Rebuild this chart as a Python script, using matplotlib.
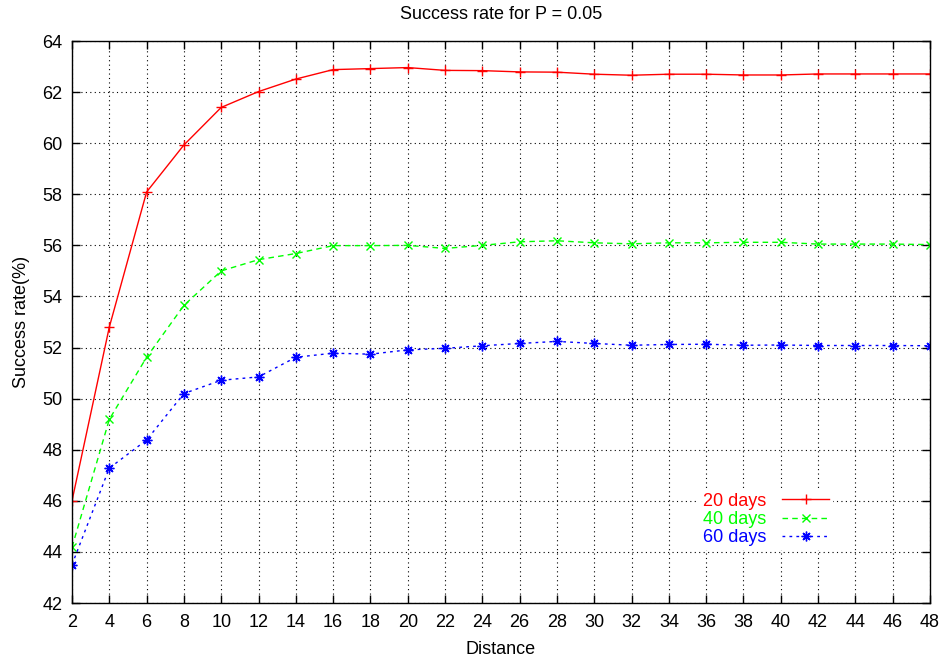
import matplotlib
matplotlib.use("Agg")
import matplotlib.pyplot as plt

distance = [2, 4, 6, 8, 10, 12, 14, 16, 18, 20, 22, 24, 26, 28, 30, 32, 34, 36, 38, 40, 42, 44, 46, 48]
days20 = [46.0, 52.8, 58.09, 59.93, 61.4, 62.02, 62.51, 62.88, 62.92, 62.96, 62.85, 62.84, 62.79, 62.78,
          62.70, 62.66, 62.70, 62.70, 62.67, 62.67, 62.71, 62.71, 62.71, 62.71]
days40 = [44.18, 49.19, 51.62, 53.65, 55.0, 55.44, 55.68, 55.99, 55.99, 56.0, 55.88, 56.0, 56.14, 56.18,
          56.10, 56.06, 56.10, 56.10, 56.12, 56.12, 56.05, 56.05, 56.05, 56.03]
days60 = [43.5, 47.28, 48.38, 50.2, 50.72, 50.85, 51.62, 51.78, 51.74, 51.91, 51.97, 52.07, 52.16, 52.24,
          52.16, 52.09, 52.12, 52.13, 52.09, 52.10, 52.08, 52.08, 52.08, 52.07]
labels = ["20 days", "40 days", "60 days"]

plt.rcParams['font.family'] = ['Liberation Sans', 'DejaVu Sans']
FS = 13
fig = plt.figure(figsize=(9.41, 6.60), dpi=100)
ax = fig.add_axes([72/941, 1-603/660, (930-72)/941, (603-41)/660])

ax.plot(distance, days20, color='#ff0000', lw=1.0, marker='+', ms=7, mew=1.0, label=labels[0])
ax.plot(distance, days40, color='#00ff00', lw=1.0, ls=(0, (4, 3)), marker='x', ms=6, mew=1.0, label=labels[1])
ax.plot(distance, days60, color='#0000ff', lw=1.0, ls=(0, (2, 3)), marker=(8, 2, 0), ms=7, mew=1.0, label=labels[2])

ax.set_xlim(2, 48)
ax.set_ylim(42, 64)
ax.set_xticks(range(2, 49, 2))
ax.set_yticks(range(42, 65, 2))
ax.tick_params(direction='in', top=True, right=True, length=6, width=1, labelsize=FS)
ax.tick_params(axis='x', pad=8)
ax.tick_params(axis='y', pad=7)
ax.grid(True, color='black', ls=(0, (1, 3)), lw=0.8)
for s in ax.spines.values():
    s.set_linewidth(1.0)

ax.set_title("Success rate for P = 0.05", fontsize=FS, pad=16)
ax.set_xlabel("Distance", fontsize=FS, labelpad=7)
ax.set_ylabel("Success rate(%)", fontsize=FS, labelpad=9)

leg = ax.legend(loc='upper right', bbox_to_anchor=(833/941, 1-489/660), bbox_transform=fig.transFigure,
                frameon=True, fancybox=False, facecolor='white', edgecolor='none', framealpha=1.0,
                borderpad=0.2, markerfirst=False, labelcolor='linecolor', fontsize=FS,
                handlelength=2.6, handletextpad=0.9, labelspacing=0.08, borderaxespad=0)

fig.savefig("out.png", dpi=100)
